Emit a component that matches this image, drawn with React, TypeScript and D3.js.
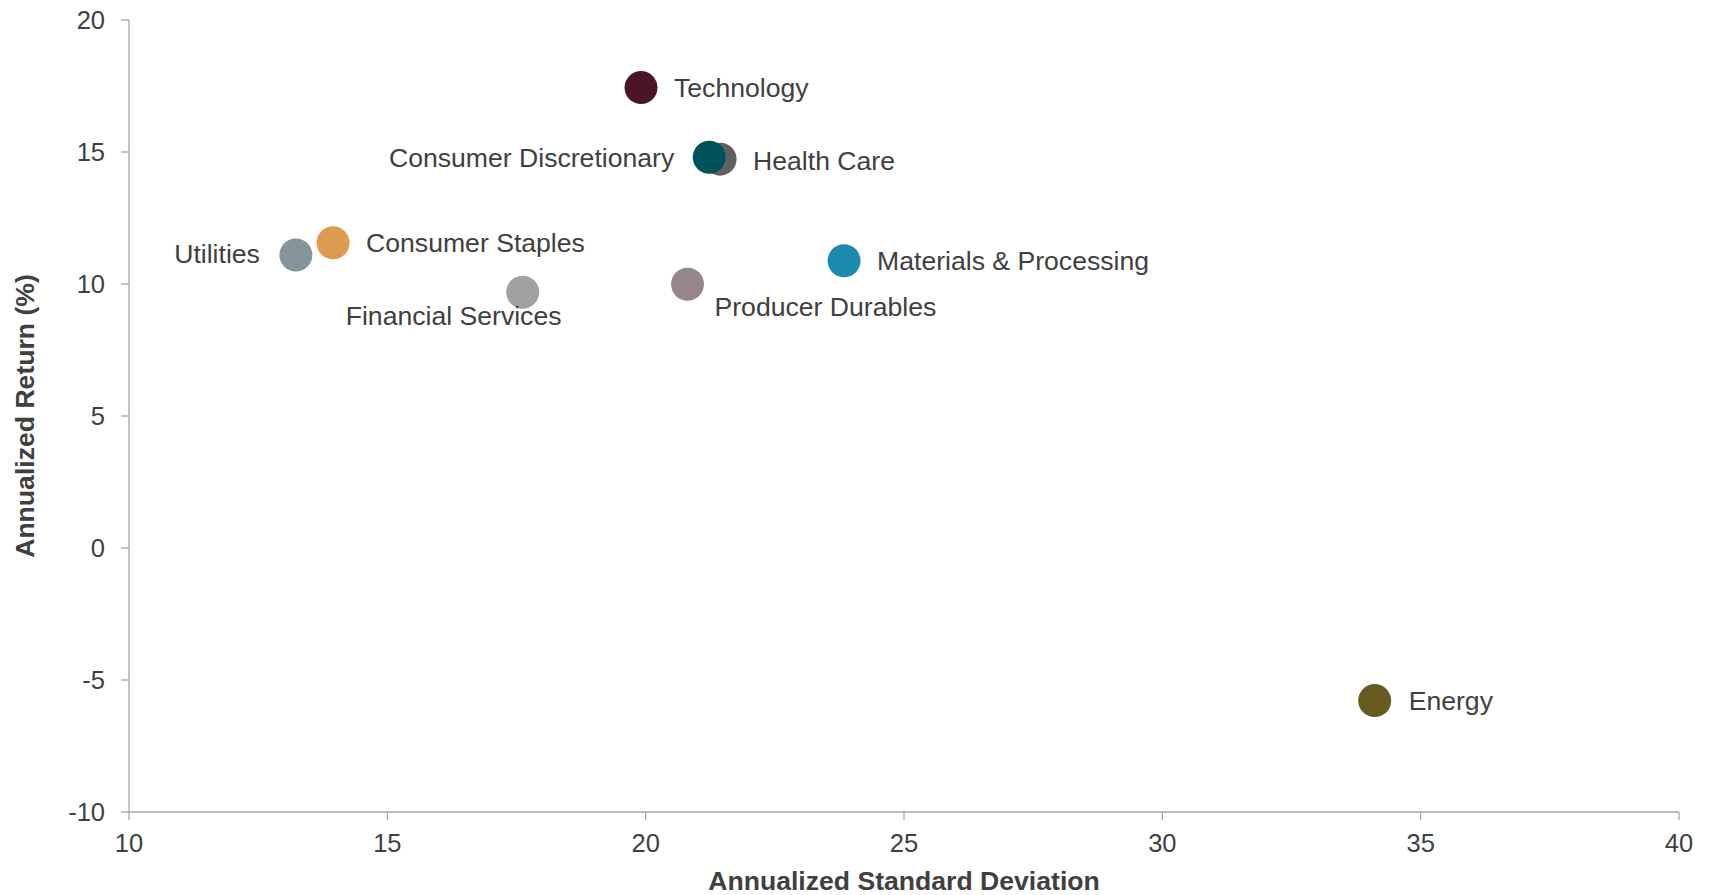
import React from "react";
import * as d3 from "d3";

// Sector risk/return data (drawn in this order)
const sectors = [
  "Technology",
  "Health Care",
  "Consumer Discretionary",
  "Utilities",
  "Consumer Staples",
  "Financial Services",
  "Materials & Processing",
  "Producer Durables",
  "Energy",
];
const stdDev = [19.91, 21.44, 21.23, 13.23, 13.95, 17.62, 23.84, 20.81, 34.11];
const annReturn = [17.44, 14.73, 14.8, 11.1, 11.56, 9.69, 10.88, 9.99, -5.78];
const colors = [
  "#4B1529",
  "#5F6261",
  "#00525A",
  "#84969B",
  "#DC9B4E",
  "#A0A1A3",
  "#1D8AAE",
  "#968689",
  "#675A1E",
];

const xTicks = [10, 15, 20, 25, 30, 35, 40];
const yTicks = [-10, -5, 0, 5, 10, 15, 20];

// Label placement relative to each marker (pixels)
const labelLayout: Record<string, { dx: number; dy: number; anchor: "start" | "end" }> = {
  Technology: { dx: 33, dy: 0, anchor: "start" },
  "Consumer Discretionary": { dx: -35, dy: 0, anchor: "end" },
  "Health Care": { dx: 33, dy: 1, anchor: "start" },
  Utilities: { dx: -36, dy: -2, anchor: "end" },
  "Consumer Staples": { dx: 33, dy: 0, anchor: "start" },
  "Financial Services": { dx: -177, dy: 23, anchor: "start" },
  "Materials & Processing": { dx: 33, dy: 0, anchor: "start" },
  "Producer Durables": { dx: 27, dy: 22, anchor: "start" },
  Energy: { dx: 34, dy: 0, anchor: "start" },
};

const W = 1711;
const H = 895;
const left = 129;
const right = 1679;
const top = 20;
const bottom = 812;

const axisColor = "#A6A6A6";
const textColor = "#404040";
const font = "'Liberation Sans', Arial, sans-serif";

export default function App() {
  const x = d3.scaleLinear().domain([10, 40]).range([left, right]);
  const y = d3.scaleLinear().domain([-10, 20]).range([bottom, top]);

  return (
    <svg
      width={W}
      height={H}
      style={{ position: "absolute", left: 0, top: 0, background: "#fff" }}
      fontFamily={font}
    >
      {/* axes */}
      <line x1={left} x2={left} y1={top} y2={bottom} stroke={axisColor} strokeWidth={1.3} />
      <line x1={left} x2={right} y1={bottom} y2={bottom} stroke={axisColor} strokeWidth={1.3} />
      {yTicks.map((t) => (
        <g key={"y" + t}>
          <line x1={left - 8} x2={left} y1={y(t)} y2={y(t)} stroke={axisColor} strokeWidth={1.3} />
          <text
            x={left - 24}
            y={y(t)}
            dy="0.36em"
            textAnchor="end"
            fontSize={25.5}
            fill={textColor}
          >
            {t}
          </text>
        </g>
      ))}
      {xTicks.map((t) => (
        <g key={"x" + t}>
          <line x1={x(t)} x2={x(t)} y1={bottom} y2={bottom + 8} stroke={axisColor} strokeWidth={1.3} />
          <text x={x(t)} y={bottom + 40} textAnchor="middle" fontSize={25.5} fill={textColor}>
            {t}
          </text>
        </g>
      ))}

      {/* axis titles */}
      <text
        x={(left + right) / 2}
        y={890}
        textAnchor="middle"
        fontSize={26.6}
        fontWeight="bold"
        fill={textColor}
      >
        Annualized Standard Deviation
      </text>
      <text
        transform={`translate(24, ${(top + bottom) / 2}) rotate(-90)`}
        dy="0.36em"
        textAnchor="middle"
        fontSize={26.6}
        fontWeight="bold"
        fill={textColor}
      >
        Annualized Return (%)
      </text>

      {/* markers */}
      {sectors.map((s, i) => (
        <circle key={"c" + s} cx={x(stdDev[i])} cy={y(annReturn[i])} r={16.5} fill={colors[i]} />
      ))}
      {sectors.map((s, i) => {
        const l = labelLayout[s];
        return (
          <text
            key={"t" + s}
            x={x(stdDev[i]) + l.dx}
            y={y(annReturn[i]) + l.dy}
            dy="0.36em"
            textAnchor={l.anchor}
            fontSize={26.6}
            fill={textColor}
          >
            {s}
          </text>
        );
      })}
    </svg>
  );
}
